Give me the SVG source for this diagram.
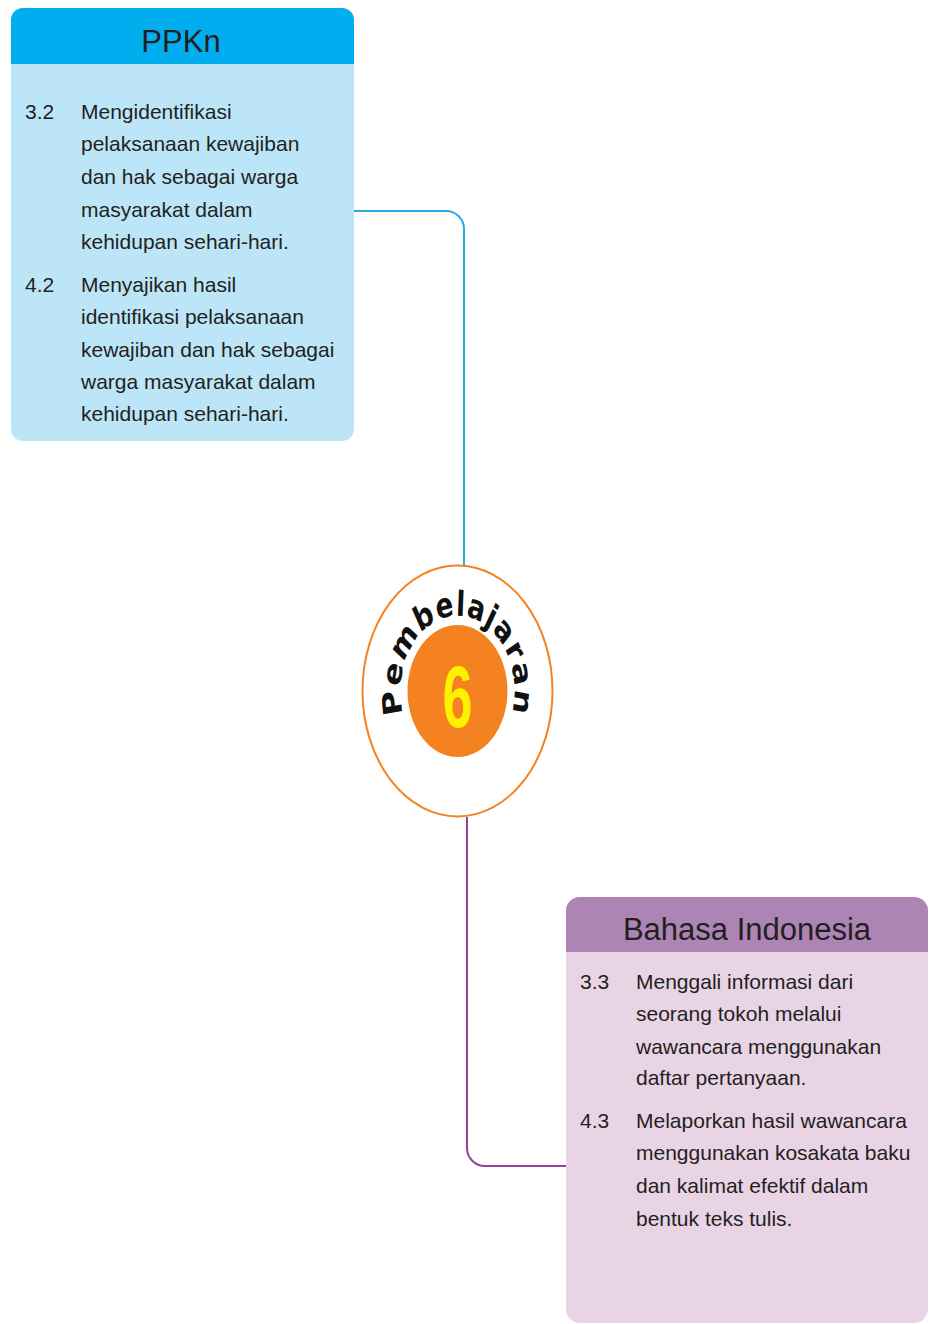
<svg xmlns="http://www.w3.org/2000/svg" xmlns:xlink="http://www.w3.org/1999/xlink" width="929" height="1324" viewBox="0 0 929 1324">
  <style>
    .body { font-family: "Liberation Sans", Arial, sans-serif; font-size: 21px; fill: #231F20; }
    .title { font-family: "Liberation Sans", Arial, sans-serif; font-size: 31px; fill: #231F20; text-anchor: middle; }
    .conn { fill: none; stroke-width: 2; }
  </style>
  <defs>
    <path id="arc" d="M -40.3,40.3 A 57,57 0 1 1 40.3,40.3"/>
  </defs>
  <rect width="929" height="1324" fill="#FFFFFF"/>

  <g id="connectors">
    <path class="conn" stroke="#29ABE2" d="M354,211 H446 A18,18 0 0 1 464,229 V566"/>
    <path class="conn" stroke="#92449A" d="M467,817 V1148 A18,18 0 0 0 485,1166 H566"/>
  </g>

  <g id="ppkn">
    <rect x="11" y="8" width="343" height="433" rx="12" fill="#BDE5F8"/>
    <path d="M11,64 V20 A12,12 0 0 1 23,8 H342 A12,12 0 0 1 354,20 V64 Z" fill="#00AEEF"/>
    <text class="title" x="181" y="52">PPKn</text>
    <text class="body" x="25" y="119">3.2</text>
    <text class="body" x="81" y="119">Mengidentifikasi</text>
    <text class="body" x="81" y="151">pelaksanaan kewajiban</text>
    <text class="body" x="81" y="184">dan hak sebagai warga</text>
    <text class="body" x="81" y="217">masyarakat dalam</text>
    <text class="body" x="81" y="249">kehidupan sehari-hari.</text>
    <text class="body" x="25" y="292">4.2</text>
    <text class="body" x="81" y="292">Menyajikan hasil</text>
    <text class="body" x="81" y="324">identifikasi pelaksanaan</text>
    <text class="body" x="81" y="357">kewajiban dan hak sebagai</text>
    <text class="body" x="81" y="389">warga masyarakat dalam</text>
    <text class="body" x="81" y="421">kehidupan sehari-hari.</text>
  </g>

  <g id="center" transform="translate(457.5,691) scale(1,1.32)">
    <circle r="95" fill="#FFFFFF" stroke="#F58220" stroke-width="2" vector-effect="non-scaling-stroke"/>
    <circle r="50" fill="#F58220"/>
    <text x="0" y="27" transform="scale(0.82,1)" text-anchor="middle" font-family="Liberation Sans, Arial, sans-serif" font-weight="bold" font-size="66" fill="#FFF200">6</text>
    <text font-family="DejaVu Sans, sans-serif" font-weight="bold" font-size="26" letter-spacing="1" fill="#111111">
      <textPath xlink:href="#arc" href="#arc" startOffset="50%" text-anchor="middle">Pembelajaran</textPath>
    </text>
  </g>

  <g id="bahasa-indonesia">
    <rect x="566" y="897" width="362" height="426" rx="14" fill="#E8D4E4"/>
    <path d="M566,952 V911 A14,14 0 0 1 580,897 H914 A14,14 0 0 1 928,911 V952 Z" fill="#AD85B5"/>
    <text class="title" x="747" y="940">Bahasa Indonesia</text>
    <text class="body" x="580" y="989">3.3</text>
    <text class="body" x="636" y="989">Menggali informasi dari</text>
    <text class="body" x="636" y="1021">seorang tokoh melalui</text>
    <text class="body" x="636" y="1054">wawancara menggunakan</text>
    <text class="body" x="636" y="1085">daftar pertanyaan.</text>
    <text class="body" x="580" y="1128">4.3</text>
    <text class="body" x="636" y="1128">Melaporkan hasil wawancara</text>
    <text class="body" x="636" y="1160">menggunakan kosakata baku</text>
    <text class="body" x="636" y="1193">dan kalimat efektif dalam</text>
    <text class="body" x="636" y="1226">bentuk teks tulis.</text>
  </g>
</svg>
